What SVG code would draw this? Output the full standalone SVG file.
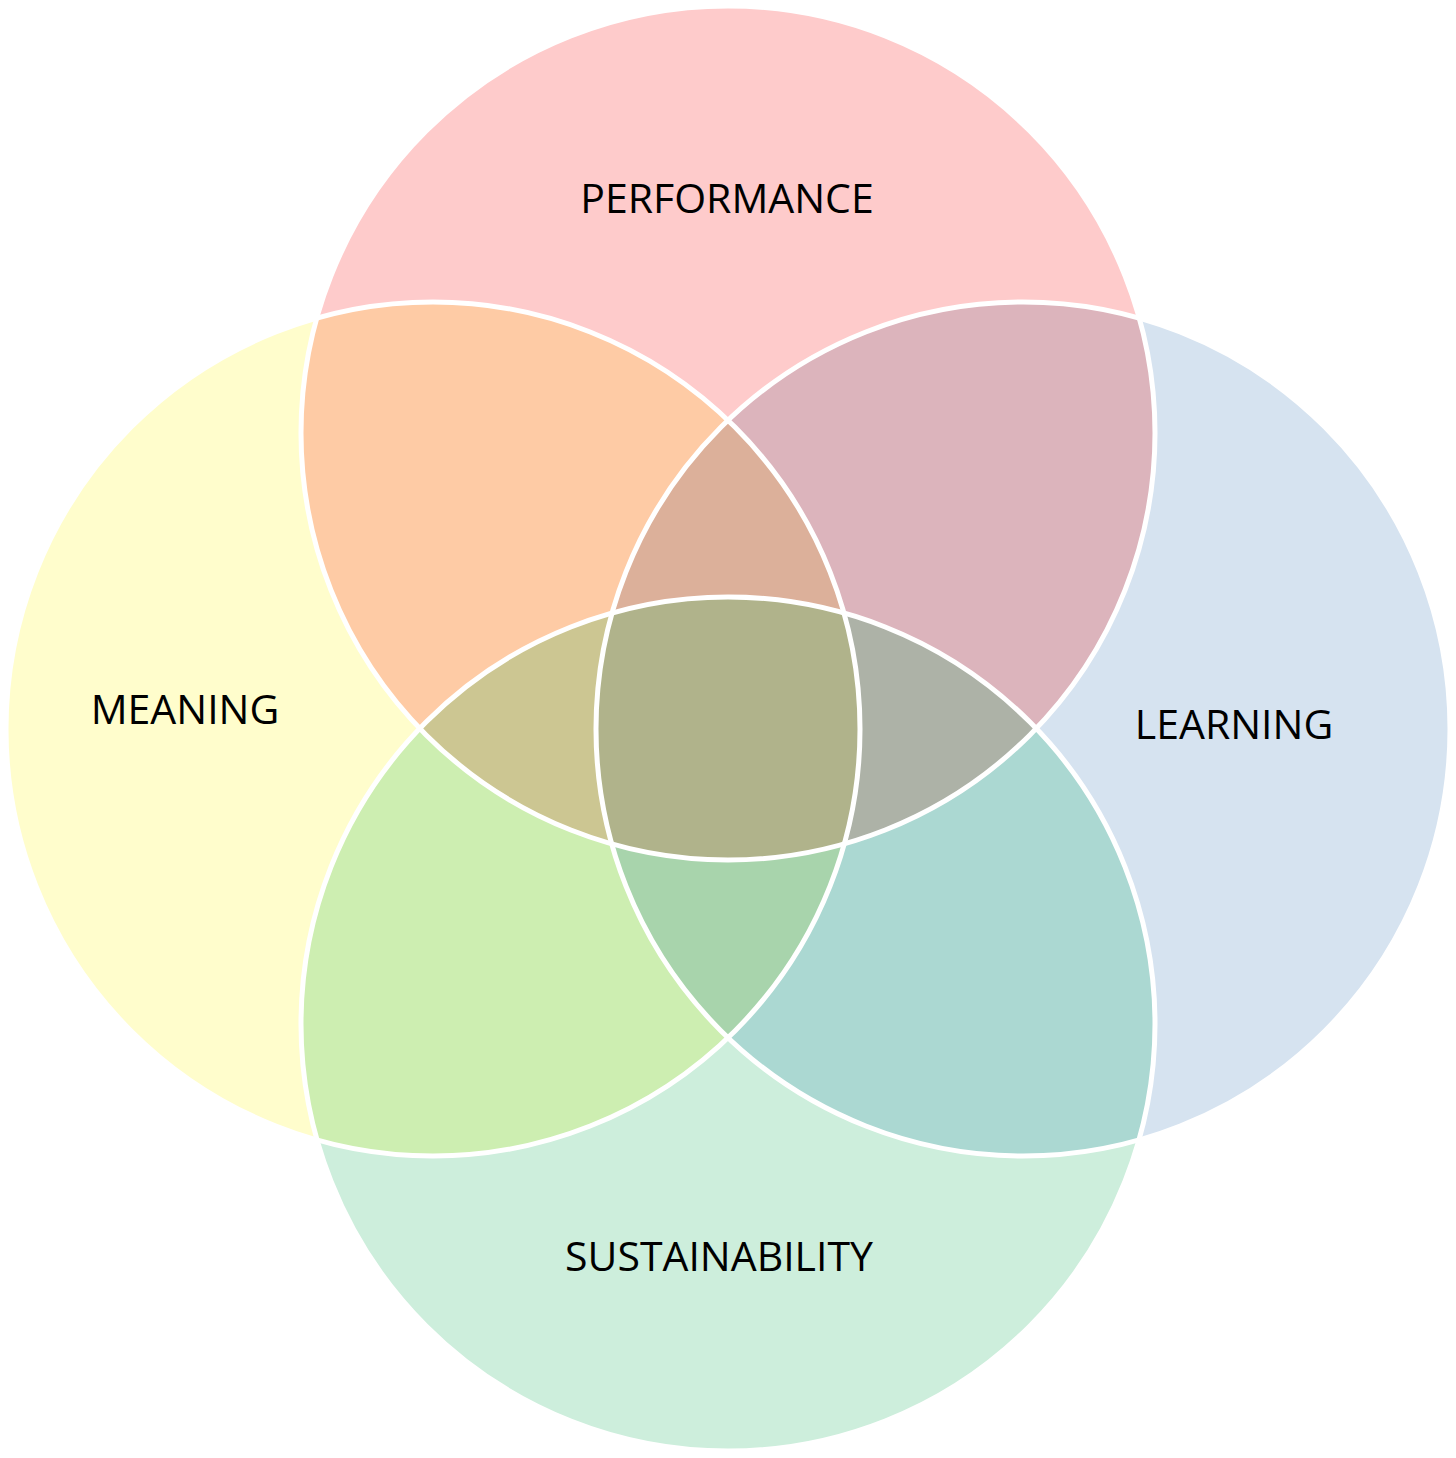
<svg xmlns="http://www.w3.org/2000/svg" width="1456" height="1458" viewBox="0 0 1456 1458">
<style>
.lbl{font-family:"Open Sans","Noto Sans","DejaVu Sans",sans-serif;font-size:41px;fill:#000;text-anchor:middle}
.edge{fill:none;stroke:#fff;stroke-width:5}
</style>
<defs>
<circle id="T" cx="728" cy="433" r="427"/>
<circle id="L" cx="433" cy="729" r="427"/>
<circle id="R" cx="1023" cy="729" r="427"/>
<circle id="B" cx="728" cy="1024" r="427"/>
<clipPath id="cT"><use href="#T"/></clipPath>
<clipPath id="cL"><use href="#L"/></clipPath>
<clipPath id="cR"><use href="#R"/></clipPath>
<clipPath id="cB"><use href="#B"/></clipPath>
</defs>
<rect width="1456" height="1458" fill="#fff"/>
<g id="performance"><use href="#T" fill="#FECBCB"/></g>
<g id="meaning"><use href="#L" fill="#FFFDCC"/></g>
<g id="learning"><use href="#R" fill="#D6E3F0"/></g>
<g id="sustainability"><use href="#B" fill="#CDEEDC"/></g>
<g id="overlaps">
<g clip-path="url(#cL)"><use href="#T" fill="#FECBA5"/></g>
<g clip-path="url(#cR)"><use href="#T" fill="#DCB4BC"/></g>
<g clip-path="url(#cL)"><use href="#B" fill="#CDEEB1"/></g>
<g clip-path="url(#cR)"><use href="#B" fill="#ABD8D2"/></g>
<g clip-path="url(#cL)"><g clip-path="url(#cR)"><use href="#T" fill="#DCB09A"/></g></g>
<g clip-path="url(#cT)"><g clip-path="url(#cB)"><use href="#L" fill="#CCC692"/></g></g>
<g clip-path="url(#cT)"><g clip-path="url(#cB)"><use href="#R" fill="#ADB2A7"/></g></g>
<g clip-path="url(#cL)"><g clip-path="url(#cR)"><use href="#B" fill="#A8D4AC"/></g></g>
<g clip-path="url(#cT)"><g clip-path="url(#cB)"><g clip-path="url(#cL)"><use href="#R" fill="#B0B38B"/></g></g></g>
</g>
<g id="outlines">
<use href="#T" class="edge"/>
<use href="#L" class="edge"/>
<use href="#R" class="edge"/>
<use href="#B" class="edge"/>
</g>
<g id="labels">
<text class="lbl" x="727" y="213">PERFORMANCE</text>
<text class="lbl" x="185" y="724">MEANING</text>
<text class="lbl" x="1234" y="739">LEARNING</text>
<text class="lbl" x="719" y="1271">SUSTAINABILITY</text>
</g>
</svg>
